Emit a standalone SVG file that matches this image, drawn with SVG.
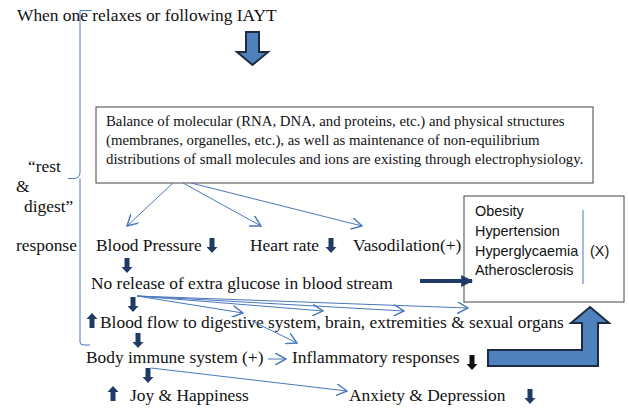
<svg xmlns="http://www.w3.org/2000/svg" width="629" height="408" viewBox="0 0 629 408">
  <style>
    .t { font-family: "Liberation Serif", "Times New Roman", serif; font-size: 17.4px; fill: #111; }
    .tb { font-family: "Liberation Serif", "Times New Roman", serif; font-size: 14.8px; fill: #111; }
    .ts { font-family: "Liberation Sans", Arial, sans-serif; font-size: 14.4px; fill: #111; }
    .thin { fill: none; stroke: #4a78bd; stroke-width: 1; }
    .box { fill: #fff; stroke: #444; stroke-width: 1; }
    .blk { fill: #4f81bd; stroke: #1c2b40; stroke-width: 2; stroke-linejoin: miter; }
  </style>
  <defs>
    <marker id="open" viewBox="0 0 10 10" refX="9" refY="5" markerWidth="12" markerHeight="12" markerUnits="userSpaceOnUse" orient="auto">
      <path d="M0,0 L9,5 L0,10" fill="none" stroke="#4a78bd" stroke-width="1.2"/>
    </marker>
    <marker id="solid" viewBox="0 0 10 10" refX="9" refY="5" markerWidth="3" markerHeight="3" orient="auto">
      <path d="M0,0 L10,5 L0,10 Z" fill="#1f3a64"/>
    </marker>
    <!-- small filled down arrow, origin at top centre -->
    <path id="dn" d="M-2.5,0 H2.5 V9 H5.5 L0,15 L-5.5,9 H-2.5 Z"/>
    <path id="up" d="M-2.5,15 H2.5 V6 H5.5 L0,0 L-5.5,6 H-2.5 Z"/>
  </defs>

  <!-- heading -->
  <g id="title">
    <text class="t" x="17" y="21">When one relaxes or following IAYT</text>
  </g>

  <!-- big down arrow under the heading -->
  <g id="main-arrow">
    <path class="blk" d="M246,32 H259 V52 H268 L252.5,65 L237,52 H246 Z"/>
  </g>

  <!-- brace on the left -->
  <g id="brace">
    <path class="thin" d="M92,10.5 H80 V172 Q80,178.5 74,178.5 H68 M80,178.5 V342 Q80,345 84,345 H90"/>
  </g>

  <g id="label-rest">
    <text class="t" x="28" y="172">“rest</text>
    <text class="t" x="16" y="192">&amp;</text>
    <text class="t" x="24" y="212">digest”</text>
    <text class="t" x="16" y="251">response</text>
  </g>

  <!-- balance box -->
  <g id="balance">
    <rect class="box" x="96" y="107" width="497" height="76"/>
    <text class="tb" x="106" y="126">Balance of molecular (RNA, DNA, and proteins, etc.) and physical structures</text>
    <text class="tb" x="106" y="145">(membranes, organelles, etc.), as well as maintenance of non-equilibrium</text>
    <text class="tb" x="106" y="164">distributions of small molecules and ions are existing through electrophysiology.</text>
  </g>

  <!-- disease box -->
  <g id="diseases">
    <rect class="box" x="464" y="196" width="160" height="106"/>
    <text class="ts" x="475" y="216">Obesity</text>
    <text class="ts" x="475" y="236">Hypertension</text>
    <text class="ts" x="475" y="256">Hyperglycaemia</text>
    <text class="ts" x="475" y="275">Atherosclerosis</text>
    <line class="thin" x1="583" y1="210" x2="583" y2="284"/>
    <text class="ts" x="590" y="256">(X)</text>
  </g>

  <g id="blood-pressure">
    <text class="t" x="96" y="251">Blood Pressure</text>
    <use href="#dn" x="212" y="238" fill="#1f3a64"/>
  </g>

  <g id="heart-rate">
    <text class="t" x="250" y="251">Heart rate</text>
    <use href="#dn" x="331" y="238" fill="#1f3a64"/>
  </g>

  <g id="vasodilation">
    <text class="t" x="353" y="251">Vasodilation(+)</text>
  </g>

  <g id="glucose">
    <text class="t" x="91" y="289">No release of extra glucose in blood stream</text>
  </g>

  <g id="blood-flow">
    <use href="#up" x="92" y="313" fill="#1f3a64"/>
    <text class="t" x="100" y="328">Blood flow to digestive system, brain, extremities &amp; sexual organs</text>
  </g>

  <g id="immune">
    <text class="t" x="86" y="363">Body immune system (+)</text>
  </g>

  <g id="inflammatory">
    <text class="t" x="292" y="363">Inflammatory responses</text>
    <use href="#dn" x="472" y="355" fill="#111"/>
  </g>

  <g id="joy">
    <use href="#up" x="113" y="386" fill="#1f3a64"/>
    <text class="t" x="130" y="401">Joy &amp; Happiness</text>
  </g>

  <g id="anxiety">
    <text class="t" x="349" y="401">Anxiety &amp; Depression</text>
    <use href="#dn" x="530" y="389" fill="#1f3a64"/>
  </g>

  <!-- big L-shaped return arrow -->
  <g id="return-arrow">
    <path class="blk" d="M488,350 H582 V323 H571 L590,307 L609,323 H598 V366 H488 Z"/>
  </g>

  <!-- connectors -->
  <g id="connectors">
    <line class="thin" x1="173" y1="183" x2="127" y2="226" marker-end="url(#open)"/>
    <line class="thin" x1="183" y1="183" x2="261" y2="226" marker-end="url(#open)"/>
    <line class="thin" x1="191" y1="183" x2="362" y2="226" marker-end="url(#open)"/>

    <use href="#dn" x="127" y="258" fill="#1f3a64"/>
    <use href="#dn" x="133" y="297" fill="#1f3a64"/>
    <use href="#dn" x="138" y="333" fill="#1f3a64"/>
    <use href="#dn" x="148" y="368" fill="#1f3a64"/>

    <line x1="420" y1="281" x2="472" y2="281" stroke="#1f3a64" stroke-width="4" marker-end="url(#solid)"/>

    <line class="thin" x1="137" y1="296" x2="243" y2="313" marker-end="url(#open)"/>
    <line class="thin" x1="137" y1="296" x2="323" y2="311" marker-end="url(#open)"/>
    <line class="thin" x1="137" y1="296" x2="404" y2="311" marker-end="url(#open)"/>
    <line class="thin" x1="137" y1="296" x2="468" y2="308" marker-end="url(#open)"/>
    <line class="thin" x1="252" y1="321" x2="297" y2="343" marker-end="url(#open)"/>

    <line class="thin" x1="268" y1="359" x2="286" y2="359" marker-end="url(#open)"/>
    <line class="thin" x1="151" y1="368" x2="347" y2="391" marker-end="url(#open)"/>
  </g>
</svg>
